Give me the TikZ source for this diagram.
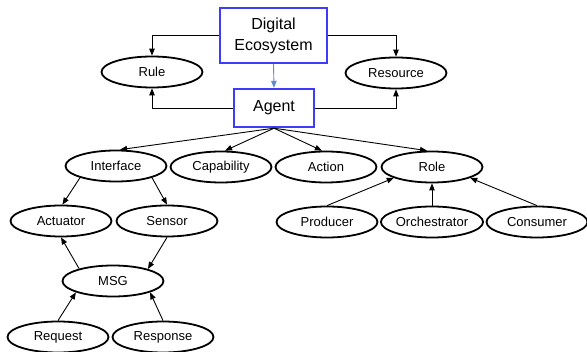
\documentclass[tikz,border=0pt]{standalone}
\usepackage{fontspec}
\setmainfont{Liberation Sans}
\usetikzlibrary{arrows.meta,shapes.geometric}
\definecolor{boxblue}{RGB}{60,60,250}
\definecolor{linkblue}{RGB}{90,140,205}
\tikzset{
  oval/.style={ellipse,draw=black,line width=1.8pt,minimum width=101pt,minimum height=31pt,inner sep=0pt,font=\fontsize{13}{15}\selectfont},
  bluebox/.style={rectangle,draw=boxblue,line width=2.4pt,inner sep=0pt,align=center,font=\fontsize{16}{21}\selectfont},
  conn/.style={line width=0.9pt,-{Triangle[length=7pt,width=5.5pt]}}
}
\begin{document}
\begin{tikzpicture}[x=1pt,y=-1pt]
\useasboundingbox (0,0) rectangle (587,352);
\node[bluebox,minimum width=107pt,minimum height=55pt] (de) at (273.5,35.5) {Digital\\Ecosystem};
\node[bluebox,minimum width=80pt,minimum height=38pt] (agent) at (274,108) {Agent};
\node[oval] (rule) at (152,72) {Rule};
\node[oval] (res) at (396,73) {Resource};
\node[oval] (iface) at (116,166) {Interface};
\node[oval] (cap) at (221,167) {Capability};
\node[oval] (act) at (326,167) {Action};
\node[oval] (role) at (432,167) {Role};
\node[oval] (actu) at (61,221) {Actuator};
\node[oval] (sens) at (167,221) {Sensor};
\node[oval] (prod) at (327,222) {Producer};
\node[oval] (orch) at (432,222) {Orchestrator};
\node[oval] (cons) at (537,222) {Consumer};
\node[oval] (msg) at (113,281) {MSG};
\node[oval] (req) at (58,337) {Request};
\node[oval] (resp) at (163,337) {Response};

\draw[conn] (de.west) -| (rule.north);
\draw[conn] (de.east) -| (res.north);
\draw[conn] (agent.west) -| (rule.south);
\draw[conn] (agent.east) -| (res.south);
\draw[conn,draw=linkblue,-{Triangle[length=7pt,width=5.5pt,fill=linkblue]}] (de.south) -- (agent.north);

\draw[conn] (agent.south) -- (iface.76);
\draw[conn] (agent.south) -- (cap.76);
\draw[conn] (agent.south) -- (act.104);
\draw[conn] (agent.south) -- (role.107);

\draw[conn] (iface.198) -- (actu.85);
\draw[conn] (iface.342) -- (sens.north);
\draw[conn] (msg.160) -- (actu.south);
\draw[conn] (sens.south) -- (msg.19);
\draw[conn] (req.north) -- (msg.197);
\draw[conn] (resp.north) -- (msg.343);

\draw[conn] (prod.north) -- (role.196);
\draw[conn] (orch.north) -- (role.south);
\draw[conn] (cons.north) -- (role.344);
\end{tikzpicture}
\end{document}
